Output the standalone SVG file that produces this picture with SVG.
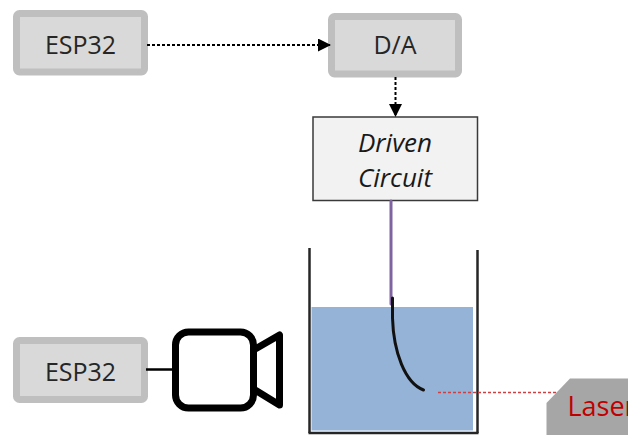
<svg xmlns="http://www.w3.org/2000/svg" width="628" height="435" viewBox="0 0 628 435">
  <defs>
    <marker id="arrow" viewBox="0 0 10 10" refX="10" refY="5" markerWidth="7.5" markerHeight="6.5" markerUnits="strokeWidth" orient="auto">
      <path d="M0,0 L10,5 L0,10 z" fill="#000"/>
    </marker>
    <filter id="soft" x="-50%" y="-5%" width="200%" height="110%">
      <feGaussianBlur stdDeviation="2.5"/>
    </filter>
  </defs>
  <style>
    .block rect { fill: #d9d9d9; stroke: #bfbfbf; stroke-width: 7; }
    .label { font-family: "Open Sans", "Liberation Sans", sans-serif; font-size: 25px; fill: #262626; text-anchor: middle; }
    .italic { font-style: italic; font-size: 26px; fill: #1a1a1a; }
    .dotted { stroke: #000; stroke-width: 2; stroke-dasharray: 3 2; fill: none; }
    .wall { stroke: #262626; stroke-width: 2.5; fill: none; }
    .shadow { stroke: #d0d0d0; stroke-width: 4; fill: none; filter: url(#soft); }
  </style>

  <rect width="628" height="435" fill="#fff"/>

  <!-- controller feeding the converter -->
  <g id="esp32-top" class="block">
    <rect x="16.5" y="13.5" width="128" height="58.5" rx="3"/>
    <text class="label" x="80.5" y="54">ESP32</text>
  </g>

  <g id="da" class="block">
    <rect x="331.5" y="16.5" width="127" height="57.5" rx="3"/>
    <text class="label" x="395" y="53.5">D/A</text>
  </g>

  <g id="driven-circuit">
    <rect x="313" y="117" width="164.5" height="83.5" fill="#f2f2f2" stroke="#3a3a3a" stroke-width="1.5"/>
    <text class="label italic" x="395" y="152">Driven</text>
    <text class="label italic" x="395" y="187">Circuit</text>
  </g>

  <!-- camera controller -->
  <g id="esp32-bottom" class="block">
    <rect x="16.5" y="340.5" width="128" height="59" rx="3"/>
    <text class="label" x="80.5" y="381">ESP32</text>
  </g>

  <g id="camera" fill="#fff" stroke="#000" stroke-width="7" stroke-linejoin="round">
    <rect x="175.5" y="332" width="78" height="76" rx="13"/>
    <path d="M253.5,350 L279.5,335 L279.5,405 L253.5,389 Z"/>
  </g>

  <!-- water tank with the bent fibre -->
  <g id="tank">
    <line class="shadow" x1="305" y1="252" x2="305" y2="433"/>
    <line class="shadow" x1="483" y1="254" x2="483" y2="433"/>
    <rect x="311.5" y="307" width="161.5" height="123.5" fill="#95b3d7"/>
    <line class="wall" x1="309.5" y1="248" x2="309.5" y2="433"/>
    <line class="wall" x1="477.5" y1="250" x2="477.5" y2="433"/>
    <line class="wall" x1="308.5" y1="433" x2="478.5" y2="433"/>
  </g>

  <g id="fibre" fill="none" stroke-linecap="round">
    <line x1="391" y1="201" x2="391" y2="304" stroke="#8064a2" stroke-width="3"/>
    <path d="M392.5,298 L392.5,318 C393.5,352 405,383 423.5,390" stroke="#111" stroke-width="3"/>
  </g>

  <!-- laser source -->
  <g id="laser">
    <polygon points="546.5,403 570,378.5 628,378.5 628,435 546.5,435" fill="#a6a6a6"/>
    <text x="567.5" y="415.5" font-family="Open Sans, Liberation Sans, sans-serif" font-size="27" fill="#c00000">Laser</text>
  </g>

  <!-- connectors -->
  <g id="connectors">
    <line class="dotted" x1="147" y1="45" x2="331" y2="45" marker-end="url(#arrow)"/>
    <line class="dotted" x1="395.5" y1="77" x2="395.5" y2="117" marker-end="url(#arrow)"/>
    <line x1="146" y1="369.5" x2="175" y2="369.5" stroke="#000" stroke-width="2.5"/>
    <line x1="438" y1="392.5" x2="556" y2="392.5" stroke="#d04040" stroke-width="1.5" stroke-dasharray="3 2"/>
  </g>
</svg>
